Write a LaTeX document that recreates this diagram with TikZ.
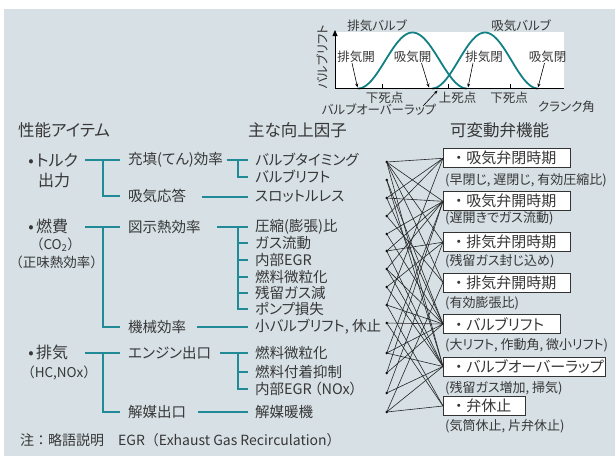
\documentclass[tikz,border=0pt]{standalone}
\usepackage{fontspec}
\setmainfont{Noto Sans CJK JP}[RawFeature=+palt]
\newfontfamily\jpf{Noto Sans CJK JP}
\usetikzlibrary{arrows.meta}
\definecolor{bgc}{RGB}{214,224,229}
\definecolor{tealc}{RGB}{32,138,150}
\definecolor{curvec}{RGB}{18,128,132}
\definecolor{txt}{RGB}{55,55,55}
\newcommand\myfs[1]{\fontsize{#1}{#1}\selectfont}
\begin{document}
\begin{tikzpicture}[x=1pt,y=-1pt,
  t/.style={anchor=west,inner sep=0pt,text=txt},
  tc/.style={anchor=center,inner sep=0pt,text=txt},
  hdr/.style={t,font=\myfs{16.5}},
  lvA/.style={t,font=\myfs{16}},
  lvB/.style={t,font=\myfs{14.5}},
  captxt/.style={t,font=\myfs{13}},
  plab/.style={tc,font=\myfs{12.5}},
  tree/.style={draw=tealc,line width=2pt},
  dot/.style={circle,fill=black,inner sep=0pt,minimum size=2.8pt},
  mesh/.style={draw=black!85,line width=0.6pt},
  vbox/.style={draw=black!80,line width=0.8pt,fill=white,anchor=west,
    inner xsep=8pt,inner ysep=0pt,minimum height=19pt,align=left,
    text width=#1,text=txt,font=\myfs{15}},
  arr/.style={draw=black,line width=0.6pt,-{Stealth[length=4pt,width=3pt]}}]
\useasboundingbox (0,0) rectangle (615,456);
\fill[white] (0,0) rectangle (615,456);
\fill[bgc] (4,9) rectangle (615,456);

% ---- valve lift plot ----
\fill[white] (335,32) rectangle (564,89);
\draw[curvec,line width=1.8pt] plot[domain=0:1,samples=70] ({358+109*\x},{88.5-28*(1-cos(360*\x))});
\draw[curvec,line width=1.8pt] plot[domain=0:1,samples=70] ({432+106*\x},{88.5-28*(1-cos(360*\x))});
\coordinate (org) at (335,88.5);
\coordinate (xend) at (564,88.5);
\coordinate (ytop) at (335,30);
\draw[black,line width=0.8pt] (org) -- (xend);
\draw[black,line width=0.8pt,-{Triangle[length=6pt,width=5pt]}] (org) -- (ytop);
\foreach \tx in {382.7,448.3,510} \draw[black,line width=0.8pt] (\tx,88.5) -- (\tx,84);
\node[plab,rotate=90] (ylab) at (322,57) {バルブリフト};
\node[plab] (ev) at (377,26) {排気バルブ};
\node[plab] (iv) at (521,26) {吸気バルブ};
\node[plab] (lb1) at (356,57) {排気開};
\node[plab] (lb2) at (412.5,57) {吸気開};
\node[plab] (lb3) at (484,57) {排気閉};
\node[plab] (lb4) at (547.5,57) {吸気閉};
\coordinate (p1) at (357.5,87.5);
\coordinate (p2) at (429,87.5);
\coordinate (p3) at (468,87.5);
\coordinate (p4) at (538,87.5);
\draw[arr] ([xshift=-4pt]lb1.south) -- (p1);
\draw[arr] ([xshift=9pt]lb2.south) -- (p2);
\draw[arr] ([xshift=-11pt]lb3.south) -- (p3);
\draw[arr] ([xshift=-3pt]lb4.south) -- (p4);
\node[plab] (bdc1) at (384.5,98) {下死点};
\node[plab] (tdc) at (457.5,98) {上死点};
\node[plab] (bdc2) at (509,98) {下死点};
\node[plab] (ca) at (566.5,107) {クランク角};
\node[plab] (ov) at (379,110) {バルブオーバーラップ};
\coordinate (ovs) at (423,106);
\coordinate (ovt) at (437.5,90.5);
\draw[arr] (ovs) -- (ovt);

% ---- headers ----
\node[hdr] (h1) at (18,130) {性能アイテム};
\node[hdr] (h2) at (248,130) {主な向上因子};
\node[hdr] (h3) at (450,130) {可変動弁機能};

% ---- level 1 ----
\node[lvA] (i1) at (26,160) {\makebox[10pt][c]{•}トルク};
\node[lvA] (i1b) at (38,180) {出力};
\node[lvA] (i2) at (26,226.7) {\makebox[10pt][c]{•}燃費};
\node[tc,font=\jpf\myfs{13.5}] (i2b) at (55.5,245) {（CO\textsubscript{2}）};
\node[tc,font=\jpf\myfs{13.5}] (i2c) at (56.5,262.7) {（正味熱効率）};
\node[lvA] (i3) at (26,352.7) {\makebox[10pt][c]{•}排気};
\node[tc,font=\jpf\myfs{13.5}] (i3b) at (59,373.3) {（HC,NOx）};

% ---- level 2 ----
\node[lvB] (m1) at (128,160) {充填(てん)効率};
\node[lvB] (m2) at (128,196) {吸気応答};
\node[lvB] (m3) at (128,226.7) {図示熱効率};
\node[lvB] (m4) at (128,326.7) {機械効率};
\node[lvB] (m5) at (128,352.7) {エンジン出口};
\node[lvB] (m6) at (128,411.7) {解媒出口};

% ---- level 3 ----
\node[lvB] (f1) at (255,160) {バルブタイミング};
\node[lvB] (f2) at (255,177) {バルブリフト};
\node[lvB] (f3) at (255,196.7) {スロットルレス};
\node[lvB] (f4) at (255,226.7) {圧縮(膨張)比};
\node[lvB] (f5) at (255,243) {ガス流動};
\node[lvB] (f6) at (255,260) {内部EGR};
\node[lvB] (f7) at (255,276.5) {燃料微粒化};
\node[lvB] (f8) at (255,292.5) {残留ガス減};
\node[lvB] (f9) at (255,308.5) {ポンプ損失};
\node[lvB] (f10) at (255,326.7) {小バルブリフト, 休止};
\node[lvB] (f11) at (255,352.7) {燃料微粒化};
\node[lvB] (f12) at (255,371.7) {燃料付着抑制};
\node[lvB] (f13) at (255,389.3) {内部EGR\,（NOx）};
\node[lvB] (f14) at (255,411.7) {解媒暖機};

% ---- tree connectors ----
\coordinate (L1) at (85,160);   \coordinate (J1) at (103,160);
\draw[tree] (L1) -- ([xshift=-8pt]m1.west);
\draw[tree] (J1) |- ([xshift=-8pt]m2.west);
\coordinate (L2) at (226.7,160); \coordinate (J2) at (238.3,160);
\draw[tree] (L2) -- ([xshift=-7pt]f1.west);
\draw[tree] (J2) |- ([xshift=-7pt]f2.west);
\coordinate (L3) at (201.7,196.7);
\draw[tree] (L3) -- ([xshift=-7pt]f3.west);
\coordinate (L4) at (85,226.7);  \coordinate (J4) at (103,226.7);
\draw[tree] (L4) -- ([xshift=-8pt]m3.west);
\draw[tree] (J4) |- ([xshift=-8pt]m4.west);
\coordinate (L5) at (216.7,226.7); \coordinate (J5) at (238.3,226.7);
\draw[tree] (L5) -- ([xshift=-7pt]f4.west);
\draw[tree] (J5) |- ([xshift=-7pt]f9.west);
\foreach \k in {5,6,7,8} \draw[tree] (J5 |- f\k.west) -- ([xshift=-7pt]f\k.west);
\coordinate (L6) at (196.7,326.7);
\draw[tree] (L6) -- ([xshift=-7pt]f10.west);
\coordinate (L7) at (85,352.7);  \coordinate (J7) at (103,352.7);
\draw[tree] (L7) -- ([xshift=-8pt]m5.west);
\draw[tree] (J7) |- ([xshift=-8pt]m6.west);
\coordinate (L8) at (220,352.7); \coordinate (J8) at (238.3,352.7);
\draw[tree] (L8) -- ([xshift=-7pt]f11.west);
\draw[tree] (J8) |- ([xshift=-7pt]f13.west);
\draw[tree] (J8 |- f12.west) -- ([xshift=-7pt]f12.west);
\coordinate (L9) at (198.3,411.7);
\draw[tree] (L9) -- ([xshift=-7pt]f14.west);

% ---- function boxes ----
\node[vbox=111pt] (bA) at (443,158.3) {\makebox[1em][c]{・}吸気弁閉時期};
\node[captxt] (cA) at (445,180) {(早閉じ, 遅閉じ, 有効圧縮比)};
\node[vbox=111pt] (bB) at (443,201.3) {\makebox[1em][c]{・}吸気弁開時期};
\node[captxt] (cB) at (445,218.5) {(遅開きでガス流動)};
\node[vbox=111pt] (bC) at (443,242.2) {\makebox[1em][c]{・}排気弁閉時期};
\node[captxt] (cC) at (445,261.7) {(残留ガス封じ込め)};
\node[vbox=111pt] (bD) at (443,282.5) {\makebox[1em][c]{・}排気弁開時期};
\node[captxt] (cD) at (445,303) {(有効膨張比)};
\node[vbox=101pt] (bE) at (443,324) {\makebox[1em][c]{・}バルブリフト};
\node[captxt] (cE) at (445,345) {(大リフト, 作動角, 微小リフト)};
\node[vbox=146pt] (bF) at (443,366.5) {\makebox[1em][c]{・}バルブオーバーラップ};
\node[captxt] (cF) at (445,388.3) {(残留ガス増加, 掃気)};
\node[vbox=66pt] (bG) at (443,406) {\makebox[1em][c]{・}弁休止};
\node[captxt] (cG) at (445,426.7) {(気筒休止, 片弁休止)};

% ---- mesh dots ----
\foreach \i/\yy in {1/162,2/180,3/198,4/216,5/234,6/251,7/269,8/287,9/305,10/323,11/353,12/373,13/393,14/412}
  \node[dot] (d\i) at (386.7,\yy) {};

% ---- mesh connections ----
\foreach \s/\g in {1/A,1/B,1/C,1/D,1/F,2/E,2/F,3/A,3/B,3/E,4/A,4/D,5/B,5/E,6/B,6/C,6/F,
  7/B,7/E,7/F,8/C,8/F,9/A,9/E,9/G,10/E,10/G,11/B,11/E,11/F,12/B,12/E,13/C,13/F,14/D,14/F,14/G}
  \draw[mesh] (d\s.center) -- (b\g.west);

% ---- footer ----
\node[t,font=\jpf\myfs{14}] (note) at (20,440) {注：略語説明　EGR（Exhaust Gas Recirculation）};
\end{tikzpicture}
\end{document}
